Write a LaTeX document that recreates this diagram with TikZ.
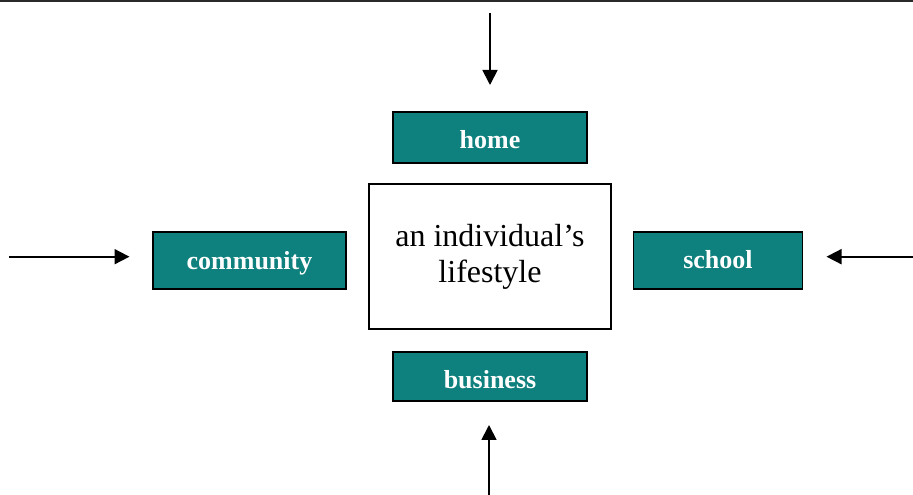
\documentclass[tikz,border=0pt]{standalone}
\usepackage{fontspec}
\setmainfont{Liberation Serif}
\usetikzlibrary{arrows.meta}
\definecolor{teal1}{HTML}{0E807D}
\definecolor{bordergray}{HTML}{2A2A2A}
\begin{document}
\begin{tikzpicture}[x=1pt,y=1pt,
  lab/.style={draw=black, line width=1.6pt, fill=teal1, text=white, inner sep=0pt,
    text depth=0pt, font=\fontsize{26}{30}\selectfont\bfseries},
  centerbox/.style={draw=black, line width=1.6pt, fill=white, inner sep=0pt,
    minimum width=242pt, minimum height=145pt, align=center,
    font=\fontsize{32}{36}\selectfont},
  arr/.style={line width=1.8pt, -{Triangle[length=15pt,width=15pt]}}]
\useasboundingbox (0,0) rectangle (913,495);
\fill[bordergray] (0,493) rectangle (913,495);
\node[centerbox] (c) at (490,238.5) {an individual’s\\lifestyle};
\node[lab, text height=21.6pt, minimum width=194pt, minimum height=51pt] (home) at (490,357.5) {home};
\node[lab, text height=23.6pt, minimum width=194pt, minimum height=49pt] (business) at (490,118.5) {business};
\node[lab, text height=18pt, minimum width=193pt, minimum height=57pt] (community) at (249.5,234.5) {community};
\node[lab, text height=16.5pt, minimum width=169pt, minimum height=57pt] (school) at (718,234.5) {school};
\coordinate (t1) at (490,482);
\coordinate (t2) at (490,410);
\coordinate (b1) at (489,0);
\coordinate (b2) at (489,70);
\coordinate (l1) at (9,238.3);
\coordinate (l2) at (129.5,238.3);
\coordinate (r1) at (913,238.3);
\coordinate (r2) at (826.5,238.3);
\draw[arr] (t1) -- (t2);
\draw[arr] (b1) -- (b2);
\draw[arr] (l1) -- (l2);
\draw[arr] (r1) -- (r2);
\end{tikzpicture}
\end{document}
